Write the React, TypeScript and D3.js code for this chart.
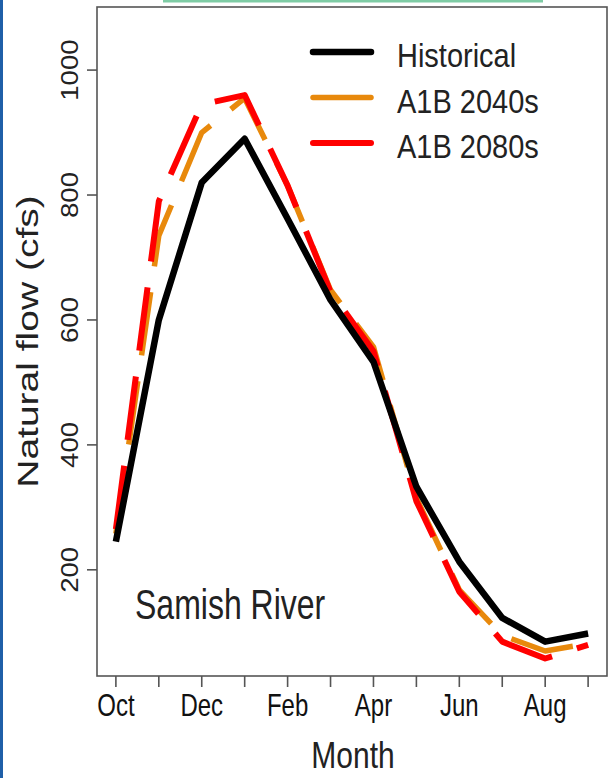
import * as d3 from "d3";

// Samish River monthly natural flow (cfs), water year Oct..Sep
const months = ["Oct", "Nov", "Dec", "Jan", "Feb", "Mar", "Apr", "May", "Jun", "Jul", "Aug", "Sep"];
const historical = [245, 600, 820, 890, 762, 632, 533, 333, 213, 123, 85, 98];
const a1b2040 = [258, 735, 900, 955, 815, 648, 557, 315, 168, 95, 70, 82];
const a1b2080 = [265, 790, 945, 960, 815, 645, 550, 310, 165, 85, 58, 80];
const yTicks = [200, 400, 600, 800, 1000];
const labelledMonths = ["Oct", "Dec", "Feb", "Apr", "Jun", "Aug"];

const series = [
  { name: "Historical", values: historical, color: "#000000", width: 6.5, dash: null },
  { name: "A1B 2040s", values: a1b2040, color: "#e8890c", width: 5.5, dash: "64 26" },
  { name: "A1B 2080s", values: a1b2080, color: "#ff0000", width: 6, dash: "64 26" },
];

const W = 610;
const H = 778;
const box = { left: 97, right: 607, top: 7, bottom: 676 };
const font = "'Liberation Sans', Arial, Helvetica, sans-serif";
// the source picture is stretched vertically, so text is too
const stretch = 1.3;

export default function App() {
  const x = d3.scaleLinear().domain([-0.44, 11.44]).range([box.left, box.right]);
  const y = d3.scaleLinear().domain([30, 1101]).range([box.bottom, box.top]);

  const line = d3
    .line<number>()
    .x((_, i) => x(i))
    .y((d) => y(d));

  const drawOrder = [series[1], series[2], series[0]];
  const midY = (box.top + box.bottom) / 2;

  return (
    <svg
      width={W}
      height={H}
      style={{ position: "absolute", left: 0, top: 0, background: "#fff" }}
      fontFamily={font}
    >
      <rect x={0} y={0} width={W} height={H} fill="#fff" />
      <rect x={0} y={0} width={3} height={H} fill="#1f5fa8" />
      <rect x={163} y={0} width={380} height={2.5} fill="#7fcca5" />

      {/* plot box */}
      <rect
        x={box.left}
        y={box.top}
        width={box.right - box.left}
        height={box.bottom - box.top}
        fill="none"
        stroke="#555"
        strokeWidth={1.6}
      />

      {/* y axis */}
      {yTicks.map((t) => (
        <g key={t} transform={`translate(${box.left},${y(t)})`}>
          <line x1={-10} x2={0} stroke="#555" strokeWidth={1.6} />
          <text
            transform="translate(-19,0) rotate(-90) scale(1.15,1)"
            textAnchor="middle"
            fontSize={24}
            fill="#222"
          >
            {t}
          </text>
        </g>
      ))}

      {/* x axis */}
      {months.map((m, i) => (
        <g key={m} transform={`translate(${x(i)},${box.bottom})`}>
          <line y1={0} y2={11} stroke="#555" strokeWidth={1.6} />
          {labelledMonths.includes(m) && (
            <text
              transform={`translate(0,40) scale(1,${stretch})`}
              textAnchor="middle"
              fontSize={24}
              fill="#111"
            >
              {m}
            </text>
          )}
        </g>
      ))}

      {/* axis titles */}
      <text
        transform="translate(353,768) scale(1,1.25)"
        textAnchor="middle"
        fontSize={30}
        fill="#222"
      >
        Month
      </text>
      <text
        transform={`translate(38,${midY}) rotate(-90) scale(${stretch},1)`}
        textAnchor="middle"
        fontSize={30}
        fill="#222"
      >
        Natural flow (cfs)
      </text>

      {/* series */}
      {drawOrder.map((s) => (
        <path
          key={s.name}
          d={line(s.values) ?? ""}
          fill="none"
          stroke={s.color}
          strokeWidth={s.width}
          strokeDasharray={s.dash ?? undefined}
          strokeLinejoin="round"
          strokeLinecap="butt"
        />
      ))}

      {/* legend */}
      {series.map((s, i) => (
        <g key={s.name} transform={`translate(313,${52 + i * 45.5})`}>
          <line x1={0} x2={58} stroke={s.color} strokeWidth={s.width} strokeLinecap="round" />
          <text
            transform="translate(84,15) scale(1,1.12)"
            fontSize={29}
            fill="#222"
          >
            {s.name}
          </text>
        </g>
      ))}

      <text transform={`translate(135,619) scale(1,${stretch})`} fontSize={32} fill="#222">
        Samish River
      </text>
    </svg>
  );
}
